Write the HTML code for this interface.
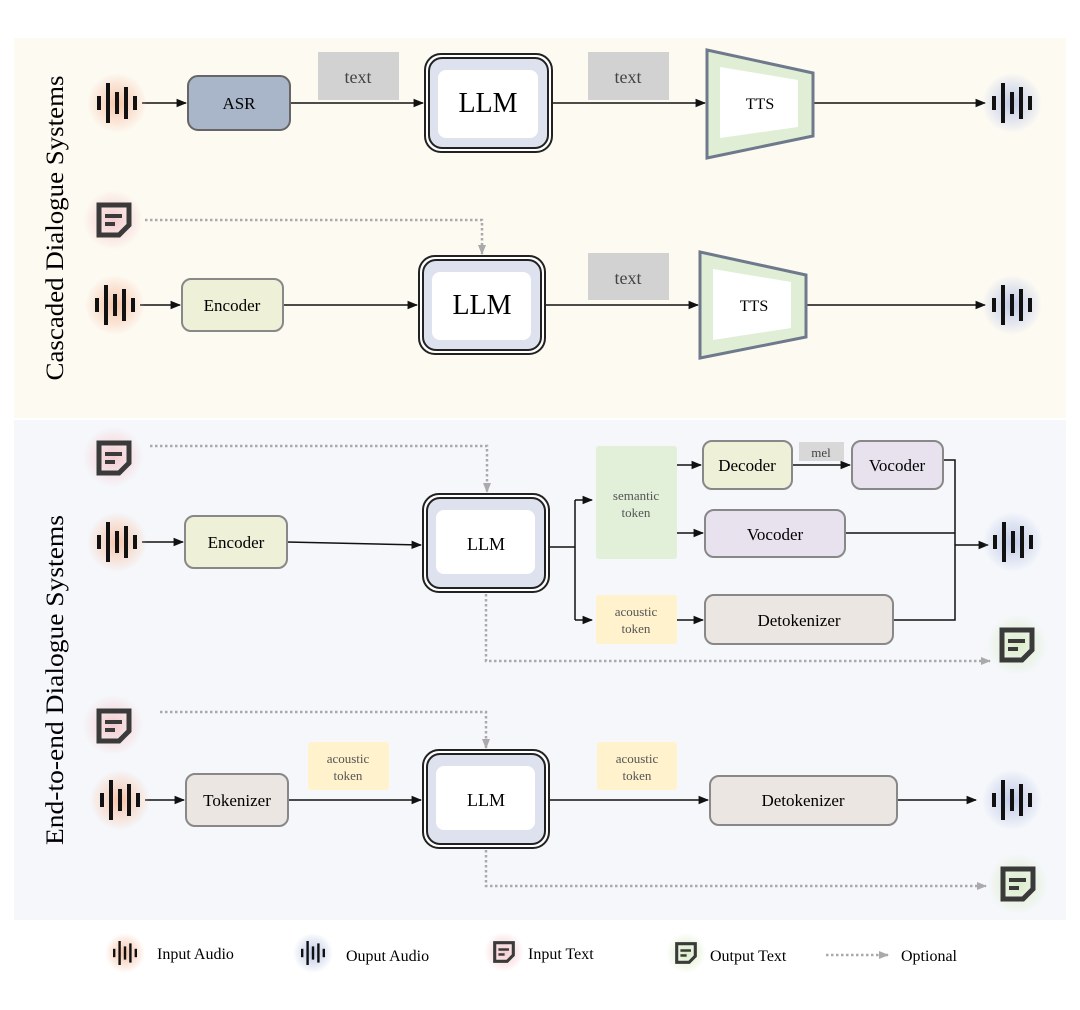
<!DOCTYPE html>
<html><head><meta charset="utf-8"><style>
html,body{margin:0;padding:0;background:#fff;}
svg{display:block;font-family:"Liberation Serif",serif;}
</style></head><body>
<svg width="1080" height="1010" viewBox="0 0 1080 1010" xmlns="http://www.w3.org/2000/svg">
<defs>
<radialGradient id="gp"><stop offset="0" stop-color="#f5c0a4" stop-opacity="0.95"/><stop offset="0.6" stop-color="#f7cdb6" stop-opacity="0.5"/><stop offset="1" stop-color="#f7c9b0" stop-opacity="0"/></radialGradient>
<radialGradient id="gb"><stop offset="0" stop-color="#bcc7e6" stop-opacity="0.95"/><stop offset="0.6" stop-color="#c8d1ea" stop-opacity="0.5"/><stop offset="1" stop-color="#c3cde8" stop-opacity="0"/></radialGradient>
<radialGradient id="gr"><stop offset="0" stop-color="#f4c6ca" stop-opacity="0.95"/><stop offset="0.6" stop-color="#f6d2d5" stop-opacity="0.5"/><stop offset="1" stop-color="#f6cfd2" stop-opacity="0"/></radialGradient>
<radialGradient id="gg"><stop offset="0" stop-color="#d6eac2" stop-opacity="0.95"/><stop offset="0.6" stop-color="#e0efcf" stop-opacity="0.5"/><stop offset="1" stop-color="#dbecc8" stop-opacity="0"/></radialGradient>
<marker id="ah" viewBox="0 0 10 10" refX="9" refY="5" markerWidth="7" markerHeight="7" orient="auto"><path d="M0,1 L10,5 L0,9 z" fill="#111"/></marker>
<marker id="ag" viewBox="0 0 10 10" refX="9" refY="5" markerUnits="userSpaceOnUse" markerWidth="10" markerHeight="10" orient="auto"><path d="M0,1 L10,5 L0,9 z" fill="#aaa"/></marker>
<g id="aud">
<rect x="-20" y="-7" width="4" height="14" fill="#111"/>
<rect x="-11" y="-20" width="4" height="40" fill="#111"/>
<rect x="-2" y="-11" width="4" height="22" fill="#111"/>
<rect x="7" y="-16" width="4" height="32" fill="#111"/>
<rect x="16" y="-7" width="4" height="14" fill="#111"/>
</g>
<g id="txt">
<path d="M-15,-15 H15 V5 L5,15 H-15 Z" fill="none" stroke="#3a3a3a" stroke-width="5" stroke-linejoin="miter"/>
<rect x="-9" y="-6" width="17" height="4" fill="#3a3a3a"/>
<rect x="-9" y="2" width="10" height="4" fill="#3a3a3a"/>
</g>
</defs>

<rect x="14" y="38" width="1052" height="380" fill="#fdfaf2"/>
<rect x="14" y="420" width="1052" height="500" fill="#f5f7fb"/>

<text transform="translate(63,228) rotate(-90)" text-anchor="middle" font-size="25" textLength="305" lengthAdjust="spacingAndGlyphs">Cascaded Dialogue Systems</text>
<text transform="translate(63,680) rotate(-90)" text-anchor="middle" font-size="25" textLength="330" lengthAdjust="spacingAndGlyphs">End-to-end  Dialogue Systems</text>

<g stroke="#111" stroke-width="1.5" fill="none">
<line x1="142" y1="103" x2="186" y2="103" marker-end="url(#ah)"/>
<line x1="290" y1="103" x2="423" y2="103" marker-end="url(#ah)"/>
<line x1="552" y1="103" x2="705" y2="103" marker-end="url(#ah)"/>
<line x1="813" y1="103" x2="985" y2="103" marker-end="url(#ah)"/>
<line x1="140" y1="305" x2="180" y2="305" marker-end="url(#ah)"/>
<line x1="283" y1="305" x2="417" y2="305" marker-end="url(#ah)"/>
<line x1="545" y1="305" x2="698" y2="305" marker-end="url(#ah)"/>
<line x1="806" y1="305" x2="985" y2="305" marker-end="url(#ah)"/>
<line x1="142" y1="542" x2="183" y2="542" marker-end="url(#ah)"/>
<line x1="287" y1="542" x2="421" y2="545" marker-end="url(#ah)"/>
<polyline points="549,547 575,547"/>
<line x1="575" y1="500" x2="575" y2="620"/>
<line x1="575" y1="500" x2="592" y2="500" marker-end="url(#ah)"/>
<line x1="575" y1="620" x2="592" y2="620" marker-end="url(#ah)"/>
<line x1="677" y1="465" x2="701" y2="465" marker-end="url(#ah)"/>
<line x1="677" y1="533" x2="703" y2="533" marker-end="url(#ah)"/>
<line x1="677" y1="620" x2="703" y2="620" marker-end="url(#ah)"/>
<line x1="792" y1="465" x2="850" y2="465" marker-end="url(#ah)"/>
<polyline points="943,460 955,460 955,620 893,620"/>
<line x1="845" y1="533" x2="955" y2="533"/>
<line x1="955" y1="545" x2="988" y2="545" marker-end="url(#ah)"/>
<line x1="145" y1="800" x2="184" y2="800" marker-end="url(#ah)"/>
<line x1="288" y1="800" x2="421" y2="800" marker-end="url(#ah)"/>
<line x1="549" y1="800" x2="708" y2="800" marker-end="url(#ah)"/>
<line x1="897" y1="800" x2="976" y2="800" marker-end="url(#ah)"/>
</g>

<g stroke="#aaa" stroke-width="2.5" stroke-dasharray="2.5 2.5" fill="none">
<polyline points="145,220 482,220 482,254" marker-end="url(#ag)"/>
<polyline points="150,446 487,446 487,492" marker-end="url(#ag)"/>
<polyline points="486,594 486,661 990,661" marker-end="url(#ag)"/>
<polyline points="160,712 486,712 486,748" marker-end="url(#ag)"/>
<polyline points="486,850 486,886 986,886" marker-end="url(#ag)"/>
<line x1="826" y1="955" x2="888" y2="955" marker-end="url(#ag)"/>
</g>

<circle cx="117" cy="103" r="30" fill="url(#gp)"/><use href="#aud" x="117" y="103"/>
<circle cx="1012" cy="103" r="30" fill="url(#gb)"/><use href="#aud" x="1012" y="103"/>
<circle cx="113" cy="220" r="30" fill="url(#gr)"/><use href="#txt" x="114" y="220"/>
<circle cx="115" cy="305" r="30" fill="url(#gp)"/><use href="#aud" x="115" y="305"/>
<circle cx="1012" cy="305" r="30" fill="url(#gb)"/><use href="#aud" x="1012" y="305"/>
<circle cx="113" cy="457" r="30" fill="url(#gr)"/><use href="#txt" x="114" y="458"/>
<circle cx="117" cy="542" r="30" fill="url(#gp)"/><use href="#aud" x="117" y="542"/>
<circle cx="1013" cy="542" r="30" fill="url(#gb)"/><use href="#aud" x="1013" y="542"/>
<circle cx="1017" cy="645" r="30" fill="url(#gg)"/><use href="#txt" x="1017" y="645"/>
<circle cx="113" cy="725" r="30" fill="url(#gr)"/><use href="#txt" x="114" y="726"/>
<circle cx="120" cy="800" r="30" fill="url(#gp)"/><use href="#aud" x="120" y="800"/>
<circle cx="1012" cy="800" r="30" fill="url(#gb)"/><use href="#aud" x="1012" y="800"/>
<circle cx="1018" cy="884" r="30" fill="url(#gg)"/><use href="#txt" x="1018" y="884"/>

<rect x="188" y="76" width="102" height="54" rx="10" fill="#a9b5c8" stroke="#666" stroke-width="2"/>
<text x="239" y="109" text-anchor="middle" font-size="17">ASR</text>
<rect x="318" y="52" width="81" height="48" fill="#d2d2d2"/>
<text x="358" y="83" text-anchor="middle" font-size="18" fill="#444">text</text>
<rect x="425" y="54" width="127" height="98" rx="16" fill="#fff" stroke="#222" stroke-width="2"/>
<rect x="429" y="58" width="119" height="90" rx="13" fill="#dde2ee" stroke="#222" stroke-width="2"/>
<rect x="438" y="70" width="100" height="68" rx="8" fill="#fff"/>
<text x="488" y="112" text-anchor="middle" font-size="28">LLM</text>
<rect x="588" y="52" width="81" height="48" fill="#d2d2d2"/>
<text x="628" y="83" text-anchor="middle" font-size="18" fill="#444">text</text>
<polygon points="707,50 813,73 813,136 707,158" fill="#e0eed6" stroke="#6e7a8c" stroke-width="3"/>
<polygon points="720,67 798,80 798,127 720,138" fill="#fff"/>
<text x="760" y="109" text-anchor="middle" font-size="16">TTS</text>

<rect x="182" y="279" width="101" height="52" rx="9" fill="#eef0d8" stroke="#888" stroke-width="2"/>
<text x="232" y="311" text-anchor="middle" font-size="17">Encoder</text>
<rect x="419" y="256" width="126" height="98" rx="16" fill="#fff" stroke="#222" stroke-width="2"/>
<rect x="423" y="260" width="118" height="90" rx="13" fill="#dde2ee" stroke="#222" stroke-width="2"/>
<rect x="432" y="272" width="99" height="68" rx="8" fill="#fff"/>
<text x="482" y="314" text-anchor="middle" font-size="28">LLM</text>
<rect x="588" y="253" width="81" height="47" fill="#d2d2d2"/>
<text x="628" y="284" text-anchor="middle" font-size="18" fill="#444">text</text>
<polygon points="700,252 806,275 806,337 700,358" fill="#e0eed6" stroke="#6e7a8c" stroke-width="3"/>
<polygon points="713,269 791,282 791,328 713,340" fill="#fff"/>
<text x="754" y="311" text-anchor="middle" font-size="16">TTS</text>

<rect x="185" y="516" width="102" height="52" rx="9" fill="#eef0d8" stroke="#888" stroke-width="2"/>
<text x="236" y="548" text-anchor="middle" font-size="17">Encoder</text>
<rect x="423" y="494" width="126" height="98" rx="16" fill="#fff" stroke="#222" stroke-width="2"/>
<rect x="427" y="498" width="118" height="90" rx="13" fill="#dde2ee" stroke="#222" stroke-width="2"/>
<rect x="436" y="510" width="99" height="64" rx="8" fill="#fff"/>
<text x="486" y="550" text-anchor="middle" font-size="18">LLM</text>
<rect x="596" y="446" width="81" height="113" rx="3" fill="#e2efd9"/>
<text x="636" y="500" text-anchor="middle" font-size="13" fill="#555">semantic</text>
<text x="636" y="517" text-anchor="middle" font-size="13" fill="#555">token</text>
<rect x="596" y="595" width="81" height="49" rx="3" fill="#fff2cc"/>
<text x="636" y="616" text-anchor="middle" font-size="13" fill="#555">acoustic</text>
<text x="636" y="633" text-anchor="middle" font-size="13" fill="#555">token</text>
<rect x="703" y="441" width="89" height="48" rx="9" fill="#eef0d8" stroke="#888" stroke-width="2"/>
<text x="747" y="471" text-anchor="middle" font-size="17">Decoder</text>
<rect x="799" y="442" width="45" height="19" fill="#d8d8d8"/>
<text x="821" y="457" text-anchor="middle" font-size="13" fill="#444">mel</text>
<rect x="852" y="441" width="91" height="48" rx="9" fill="#e8e2ef" stroke="#888" stroke-width="2"/>
<text x="897" y="471" text-anchor="middle" font-size="17">Vocoder</text>
<rect x="705" y="510" width="140" height="47" rx="9" fill="#e8e2ef" stroke="#888" stroke-width="2"/>
<text x="775" y="540" text-anchor="middle" font-size="17">Vocoder</text>
<rect x="705" y="595" width="188" height="49" rx="9" fill="#ece6e2" stroke="#888" stroke-width="2"/>
<text x="799" y="626" text-anchor="middle" font-size="17">Detokenizer</text>

<rect x="186" y="774" width="102" height="52" rx="9" fill="#ece6e2" stroke="#888" stroke-width="2"/>
<text x="237" y="806" text-anchor="middle" font-size="17">Tokenizer</text>
<rect x="308" y="742" width="81" height="48" rx="3" fill="#fff2cc"/>
<text x="348" y="763" text-anchor="middle" font-size="13" fill="#555">acoustic</text>
<text x="348" y="780" text-anchor="middle" font-size="13" fill="#555">token</text>
<rect x="423" y="750" width="126" height="98" rx="16" fill="#fff" stroke="#222" stroke-width="2"/>
<rect x="427" y="754" width="118" height="90" rx="13" fill="#dde2ee" stroke="#222" stroke-width="2"/>
<rect x="436" y="766" width="99" height="64" rx="8" fill="#fff"/>
<text x="486" y="806" text-anchor="middle" font-size="18">LLM</text>
<rect x="597" y="742" width="80" height="48" rx="3" fill="#fff2cc"/>
<text x="637" y="763" text-anchor="middle" font-size="13" fill="#555">acoustic</text>
<text x="637" y="780" text-anchor="middle" font-size="13" fill="#555">token</text>
<rect x="710" y="776" width="187" height="49" rx="9" fill="#ece6e2" stroke="#888" stroke-width="2"/>
<text x="803" y="806" text-anchor="middle" font-size="17">Detokenizer</text>

<circle cx="125" cy="953" r="20" fill="url(#gp)"/><use href="#aud" transform="translate(125,953) scale(0.6)"/>
<text x="157" y="959" font-size="16">Input Audio</text>
<circle cx="313" cy="953" r="20" fill="url(#gb)"/><use href="#aud" transform="translate(313,953) scale(0.6)"/>
<text x="346" y="961" font-size="16">Ouput Audio</text>
<circle cx="504" cy="952" r="20" fill="url(#gr)"/><use href="#txt" transform="translate(504,952) scale(0.62)"/>
<text x="528" y="959" font-size="16">Input Text</text>
<circle cx="686" cy="953" r="20" fill="url(#gg)"/><use href="#txt" transform="translate(686,953) scale(0.62)"/>
<text x="710" y="961" font-size="16">Output Text</text>
<text x="901" y="961" font-size="16">Optional</text>
</svg>
</body></html>
